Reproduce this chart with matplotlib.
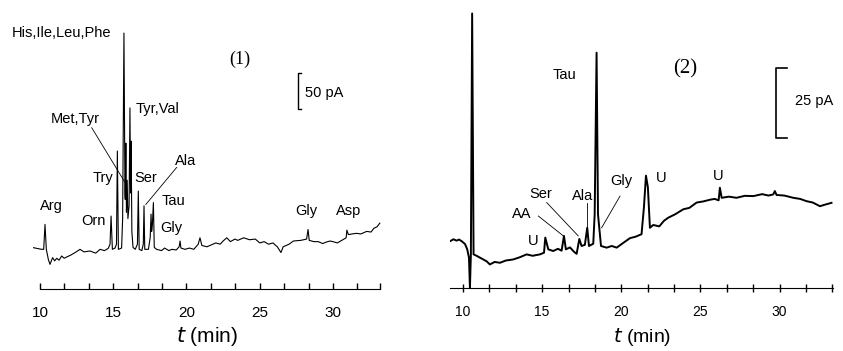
import matplotlib.pyplot as plt

plt.rcParams['font.family'] = ['Liberation Sans', 'DejaVu Sans']

# panel (1): time (min) and signal (pA)
t1 = [9.54, 10.11, 10.25, 10.34, 10.43, 10.57, 10.68, 10.86, 11.0, 11.14, 11.3, 11.48, 11.65,
      11.82, 12.1, 12.4, 12.73, 13.0, 13.41, 13.8, 14.1, 14.4, 14.66, 14.78, 14.85, 14.94,
      15.12, 15.22, 15.28, 15.35, 15.57, 15.64, 15.73, 15.8, 15.82, 15.86, 15.9, 15.95, 16.0,
      16.08, 16.14, 16.18, 16.22, 16.27, 16.35, 16.5, 16.65, 16.71, 16.77, 16.95, 17.05, 17.1,
      17.15, 17.4, 17.52, 17.58, 17.62, 17.67, 17.74, 17.8, 17.96, 18.3, 18.5, 18.8, 19.0,
      19.3, 19.5, 19.56, 19.62, 19.9, 20.2, 20.5, 20.8, 20.92, 21.05, 21.4, 21.7, 22.0, 22.3,
      22.5, 22.75, 23.0, 23.3, 23.5, 23.9, 24.3, 24.7, 25.0, 25.3, 25.6, 25.9, 26.2, 26.45,
      26.6, 27.0, 27.3, 27.8, 28.2, 28.3, 28.38, 28.7, 29.0, 29.3, 29.5, 29.8, 30.0, 30.3,
      30.6, 30.9, 30.95, 31.05, 31.3, 31.6, 31.9, 32.3, 32.6, 32.8, 33.0, 33.2]
v1 = [64.6, 62, 62, 101, 62, 46, 38.5, 49, 44, 48, 45, 51.6, 48,
      50, 53, 57, 62, 58, 59.4, 56, 62, 60, 63.5, 70, 114, 62,
      64, 70, 215.6, 62, 64, 110, 400, 150, 140, 228, 120, 170, 110,
      130, 283, 150, 231, 90, 65, 62, 70, 153, 62, 60, 70, 130,
      62, 62, 80, 117, 90, 100, 135, 65, 62, 60, 64, 60, 62,
      61, 66, 75, 64, 62, 64, 62, 70, 80, 68, 66, 69, 72, 70,
      75, 80, 74, 78, 76, 80, 77, 78, 72, 74, 70, 72, 66, 57,
      66, 70, 75, 76, 78, 93, 76, 74, 74, 71, 73, 75, 74, 72,
      76, 80, 92, 85, 86, 87, 86, 90, 89, 95, 97, 103]

# panel (2)
t2 = [9.22, 9.4, 9.6, 9.75, 9.92, 10.13, 10.27, 10.38, 10.44, 10.5, 10.58, 10.67, 10.86,
      11.05, 11.28, 11.5, 11.7, 12.0, 12.34, 12.7, 13.18, 13.6, 14.02, 14.4, 14.86, 15.12,
      15.2, 15.39, 15.7, 16.0, 16.23, 16.38, 16.5, 16.76, 17.0, 17.18, 17.35, 17.49, 17.7,
      17.85, 17.96, 18.23, 18.32, 18.44, 18.53, 18.61, 18.72, 19.07, 19.4, 19.71, 20.1,
      20.55, 20.9, 21.28, 21.43, 21.56, 21.68, 21.81, 22.02, 22.4, 22.7, 22.97, 23.4, 23.92,
      24.3, 24.76, 25.18, 25.6, 25.9, 26.15, 26.23, 26.34, 26.8, 27.28, 27.8, 28.34, 28.9,
      29.3, 29.6, 29.7, 29.81, 30.3, 30.86, 31.3, 31.7, 32.1, 32.55, 32.9, 33.28]
v2 = [16.8, 17.4, 16.9, 17.3, 16.7, 15.7, 13.8, 10.8, 0.1, 12.0, 98, 12, 11.5,
      10.9, 10.2, 9.5, 8.4, 9.3, 9.0, 9.8, 10.2, 11.0, 12.0, 11.5, 12, 12.6,
      18, 13.8, 13.2, 14.0, 13.3, 18.6, 13.8, 14.5, 13.0, 12.2, 17.5, 15.0, 15.4,
      21.5, 15, 15.8, 26.3, 84, 26.3, 21.5, 15, 14.4, 15.0, 14.4, 16.0,
      17.8, 18.3, 19.2, 28.7, 40.1, 36, 21.5, 22.5, 22.0, 24.0, 25.1, 26.3, 28.1,
      28.6, 30.5, 30.9, 31.5, 31.8, 31.3, 35.8, 32.2, 32.6, 32.2, 32.9, 32.8, 33.5,
      33.0, 33.4, 34.6, 33.2, 33.0, 32.2, 31.8, 31.0, 30.5, 29.2, 29.8, 30.4]

labels1 = ['His,Ile,Leu,Phe', 'Met,Tyr', 'Tyr,Val', 'Try', 'Ser', 'Ala', 'Tau', 'Gly',
           'Orn', 'Arg', 'Gly', 'Asp']
pos1 = [(11.5, 400), (12.39, 266), (18.02, 281), (14.27, 173), (17.24, 173), (19.93, 200),
        (19.11, 137), (18.94, 95), (13.62, 106), (10.78, 130), (28.16, 122), (31.06, 122)]

labels2 = ['Tau', 'Gly', 'U', 'U', 'Ala', 'Ser', 'AA', 'U']
pos2 = [(16.41, 76), (20.01, 38.2), (22.55, 39.4), (26.11, 40), (17.58, 32.8), (14.9, 33.6),
        (13.7, 26.4), (14.42, 16.8)]

fig = plt.figure(figsize=(8.43, 3.51), dpi=100)
ax1 = fig.add_axes([32.7 / 843, 62 / 351, 348.6 / 843, 279 / 351])
ax2 = fig.add_axes([450.3 / 843, 63 / 351, 383.1 / 843, 288 / 351])

# left panel
ax1.plot(t1, v1, color='black', lw=0.8)
ax1.set_xlim(9.5, 33.3)
ax1.set_ylim(0, 436)
for s in ['left', 'right', 'top']:
    ax1.spines[s].set_visible(False)
ax1.spines['bottom'].set_bounds(10, 33.2)
ax1.set_yticks([])
ax1.set_xticks([10, 15, 20, 25, 30])
ax1.set_xticks([11.67, 13.33, 16.67, 18.33, 21.67, 23.33, 26.67, 28.33, 31.67, 33.2], minor=True)
ax1.tick_params(axis='x', which='both', direction='in', length=4, width=1, labelsize=11, pad=12)
ax1.set_xlabel('$t$ (min)', fontsize=15, labelpad=4)
for lab, (x, y) in zip(labels1, pos1):
    ax1.text(x, y, lab, fontsize=10.5, ha='center', va='center')
ax1.plot([13.53, 15.87], [252, 164], color='black', lw=0.6)
ax1.plot([19.33, 17.22], [190, 132], color='black', lw=0.6)
ax1.text(23.65, 359, '(1)', fontsize=13, family='Liberation Serif', ha='center', va='center')
ax1.plot([27.85, 27.6, 27.6, 27.85], [281, 281, 337, 337], color='black', lw=1, clip_on=False)
ax1.text(28.09, 306, '50 pA', fontsize=10.5, ha='left', va='center')

# right panel
ax2.plot(t2, v2, color='black', lw=1.4)
ax2.set_xlim(9.2, 33.4)
ax2.set_ylim(0, 102.8)
for s in ['left', 'right', 'top']:
    ax2.spines[s].set_visible(False)
ax2.set_yticks([])
ax2.set_xticks([10, 15, 20, 25, 30])
ax2.set_xticks([11.67, 13.33, 16.67, 18.33, 21.67, 23.33, 26.67, 28.33, 31.67, 33.33], minor=True)
ax2.tick_params(axis='x', which='both', direction='inout', length=6, width=1, labelsize=10, pad=9)
ax2.set_xlabel('$t$ (min)', fontsize=14, labelpad=5)
for lab, (x, y) in zip(labels2, pos2):
    ax2.text(x, y, lab, fontsize=10.5, ha='center', va='center')
ax2.plot([19.92, 18.76], [32.8, 21.5], color='black', lw=0.6)
ax2.plot([17.85, 17.85], [30.5, 18.6], color='black', lw=0.6)
ax2.plot([15.29, 17.28], [30.5, 18.6], color='black', lw=0.6)
ax2.plot([14.76, 16.34], [25.7, 18.6], color='black', lw=0.6)
ax2.text(24.02, 78.2, '(2)', fontsize=15, family='Liberation Serif', ha='center', va='center')
ax2.plot([30.45, 29.77, 29.77, 30.45], [53.6, 53.6, 78.6, 78.6], color='black', lw=1.2)
ax2.text(30.97, 66.8, '25 pA', fontsize=10.5, ha='left', va='center')

fig.savefig('out.png', dpi=100)
